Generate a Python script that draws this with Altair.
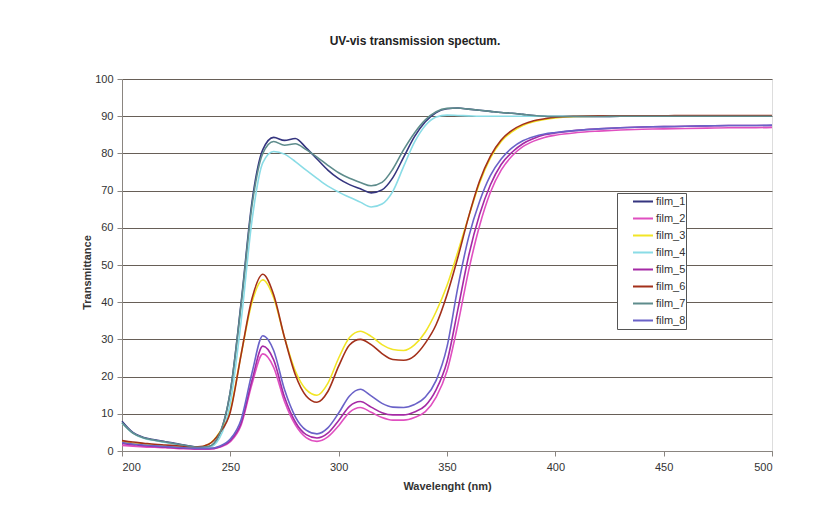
import altair as alt
import pandas as pd

wavelength = [200, 205, 210, 215, 220, 225, 230, 235, 240, 245, 250, 255, 260, 265, 270,
              275, 280, 285, 290, 295, 300, 305, 310, 315, 320, 325, 330, 335, 340, 345,
              350, 355, 360, 365, 370, 375, 380, 385, 390, 395, 400, 410, 420, 430, 440,
              450, 460, 470, 480, 490, 500]

film_1 = [8.0, 5.0, 3.6, 3.0, 2.5, 2.0, 1.5, 1.1, 1.2, 4.5, 16, 40, 67, 81, 84.3,
          83.5, 84.0, 81.5, 78.5, 75.5, 73.2, 71.6, 70.5, 69.4, 70.2, 73.5, 79, 84.5, 88.5, 91,
          92, 92.2, 91.9, 91.6, 91.3, 91.0, 90.8, 90.5, 90.2, 90.0, 89.9, 89.9, 89.9, 90, 90,
          90, 90, 90, 90, 90, 90]
film_2 = [1.5, 1.3, 1.1, 1.0, 0.9, 0.7, 0.6, 0.5, 0.5, 1.0, 2.5, 7, 18, 26.1, 22.5,
          13.3, 7, 3.6, 2.6, 3.8, 6.8, 10.4, 11.7, 10.4, 9, 8.3, 8.3, 9, 10.6, 14.5,
          21.5, 34, 48.5, 60.5, 69.5, 75.5, 79.3, 81.8, 83.3, 84.3, 84.9, 85.6, 86, 86.3, 86.5,
          86.6, 86.7, 86.8, 86.9, 86.9, 87]
film_3 = [2.4, 2.1, 1.9, 1.6, 1.4, 1.2, 1.0, 1.0, 1.8, 5, 11, 26, 40, 46, 41.2,
          30.5, 21.5, 16.5, 15, 18.2, 25, 30.5, 32.2, 30.8, 28.6, 27.3, 27, 28.5, 32, 37.5,
          44.5, 53.5, 63, 72, 78.7, 83.2, 85.8, 87.5, 88.5, 89.1, 89.5, 89.9, 90, 90, 90,
          90, 90, 90, 90, 90, 90]
film_4 = [7.5, 4.8, 3.4, 2.8, 2.3, 1.8, 1.3, 1.0, 1.0, 3.5, 13, 35, 62, 77.5, 80.5,
          79.8, 77.8, 75.5, 73.3, 71.2, 69.6, 68.2, 66.9, 65.6, 66.4, 69.8, 76.5, 83, 87.5, 89.8,
          90.3, 90.2, 90.1, 90, 90, 90, 90, 90, 90, 90, 90, 90, 90, 90, 90,
          90, 90, 90, 90, 90, 90]
film_5 = [2.0, 1.7, 1.4, 1.2, 1.0, 0.8, 0.7, 0.6, 0.6, 1.1, 2.8, 7.5, 19, 28.2, 24.5,
          14.5, 7.8, 4.4, 3.5, 4.8, 8.2, 12, 13.3, 11.8, 10.3, 9.7, 9.7, 10.5, 12.2, 16.5,
          24, 38, 52.5, 63.5, 71.5, 77, 80.3, 82.6, 84, 85, 85.5, 86.2, 86.6, 86.9, 87.1,
          87.2, 87.3, 87.4, 87.5, 87.5, 87.5]
film_6 = [2.8, 2.4, 2.1, 1.8, 1.6, 1.4, 1.2, 1.1, 1.8, 4.8, 10.5, 26, 41, 47.5, 42,
          30.5, 20.5, 14.8, 13.1, 16, 22.8, 28.5, 30, 28.6, 26.2, 24.6, 24.4, 25.6, 29, 34,
          42, 52, 63, 72.5, 79.2, 83.6, 86.2, 87.8, 88.8, 89.3, 89.7, 90, 90.1, 90.1, 90.1,
          90.1, 90.2, 90.2, 90.2, 90.2, 90.2]
film_7 = [7.6, 4.8, 3.5, 2.9, 2.4, 1.9, 1.4, 1.0, 1.2, 4.5, 16, 39.5, 66, 80, 83.2,
          82.2, 82.6, 81, 79, 76.8, 74.8, 73.3, 72.2, 71.3, 72.2, 75.8, 81, 85.5, 89, 91.2,
          92.1, 92.2, 91.9, 91.6, 91.3, 91.0, 90.8, 90.5, 90.2, 90.0, 89.9, 89.9, 89.9, 90, 90,
          90, 90, 90, 90, 90, 90]
film_8 = [2.3, 1.9, 1.6, 1.4, 1.2, 1.0, 0.8, 0.7, 0.7, 1.3, 3.2, 8.5, 21, 31, 27,
          16.5, 9.2, 5.6, 4.6, 6.2, 10.2, 14.8, 16.6, 14.8, 12.8, 11.8, 11.7, 12.5, 14.5, 19,
          28, 44, 57.5, 67, 74, 78.5, 81.5, 83.4, 84.5, 85.2, 85.6, 86.2, 86.6, 86.9, 87.1,
          87.2, 87.3, 87.4, 87.5, 87.5, 87.6]

film_names = ["film_1", "film_2", "film_3", "film_4", "film_5", "film_6", "film_7", "film_8"]
film_values = [film_1, film_2, film_3, film_4, film_5, film_6, film_7, film_8]
film_colors = ["#35357F", "#E04FC0", "#F2E526", "#8ADCE6", "#A52AA5", "#A3301A", "#5E8C8C", "#6A62C8"]

x_ticks = [200, 250, 300, 350, 400, 450, 500]
y_ticks = [0, 10, 20, 30, 40, 50, 60, 70, 80, 90, 100]

rows = []
for name, vals in zip(film_names, film_values):
    for w, v in zip(wavelength, vals):
        rows.append({"Wavelength": w, "Transmittance": v, "Film": name})
df = pd.DataFrame(rows)

FONT = "Liberation Sans"
NBSP = "\u00a0"

chart = alt.Chart(df).mark_line(strokeWidth=1.6, interpolate="monotone").encode(
    x=alt.X("Wavelength:Q",
            scale=alt.Scale(domain=[200, 500], nice=False, zero=False),
            axis=alt.Axis(title="Wavelenght (nm)", values=x_ticks, grid=False,
                          domainColor="#8A8580", tickColor="#8A8580", tickSize=5,
                          labelPadding=5, labelFontSize=11, labelColor="#333333",
                          titleFontSize=11, titleFontWeight="bold", titleColor="#333333",
                          titlePadding=8)),
    y=alt.Y("Transmittance:Q",
            scale=alt.Scale(domain=[0, 100], nice=False),
            axis=alt.Axis(title="Transmittance", values=y_ticks, grid=True,
                          gridColor="#675F57", gridWidth=1,
                          domainColor="#8A8580", tickColor="#8A8580", tickSize=5,
                          labelPadding=4, labelFontSize=11, labelColor="#333333",
                          titleFontSize=11, titleFontWeight="bold", titleColor="#333333",
                          titleX=-35, titleY=193, titleAngle=270, titleAlign="center",
                          titleBaseline="middle")),
    color=alt.Color("Film:N",
                    scale=alt.Scale(domain=film_names, range=film_colors),
                    legend=alt.Legend(title=None, orient="none", legendX=495, legendY=114,
                                      fillColor="#FFFFFF", strokeColor="#555555",
                                      padding=0, rowPadding=0, clipHeight=17,
                                      symbolType="stroke", symbolSize=400,
                                      symbolStrokeWidth=1.8, symbolOffset=15,
                                      labelOffset=2, labelFontSize=11, labelColor="#333333",
                                      labelFont=FONT,
                                      labelExpr="datum.label + '" + NBSP * 4 + "'")),
).properties(
    width=650,
    height=372,
    title=alt.Title("UV-vis transmission spectum.", fontSize=12, fontWeight="bold",
                    font=FONT, color="#222222", dx=-32, offset=25),
    autosize=alt.AutoSizeParams(type="none"),
    padding={"left": 114, "top": 71, "right": 56, "bottom": 63},
    background="#FFFFFF",
).configure_view(
    fill="#CCC5BD", stroke="#8A8580"
).configure(font=FONT)

chart.save("out.html", embed_options={"renderer": "svg", "actions": False})
